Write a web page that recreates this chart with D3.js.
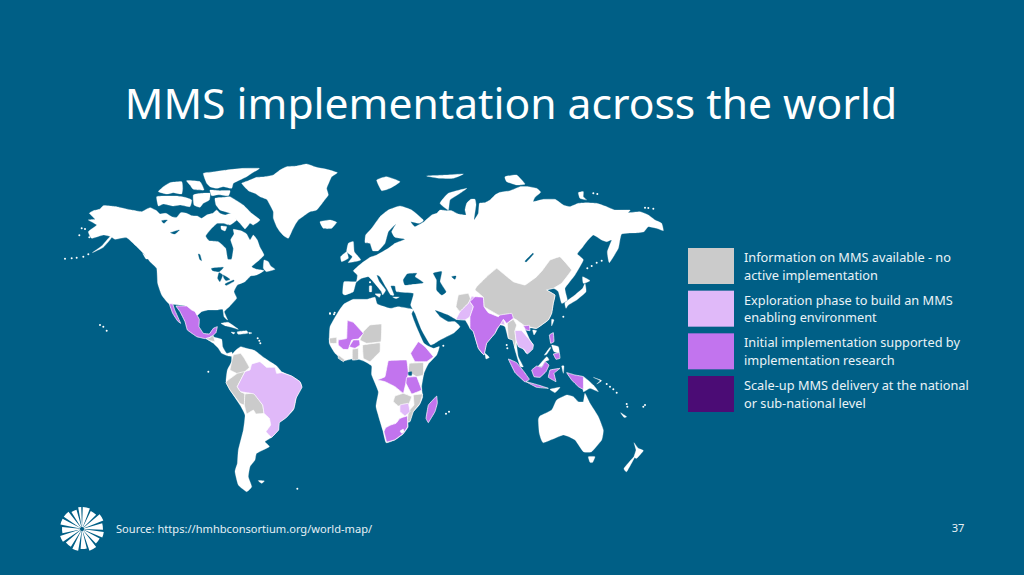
<!DOCTYPE html>
<html><head><meta charset="utf-8">
<script src="https://cdn.jsdelivr.net/npm/d3@7/dist/d3.min.js"></script>
<style>html,body{margin:0;padding:0;background:#005f86}svg{display:block}text{font-family:"Noto Sans",sans-serif}</style>
</head><body><svg id="c" width="1024" height="575"></svg>
<script>
// ---- text ----
const titleText="MMS implementation across the world";
const sourceText="Source: https://hmhbconsortium.org/world-map/";
const pageNumber="37";
const legendLabels=[["Information on MMS available - no","active implementation"],["Exploration phase to build an MMS","enabling environment"],["Initial implementation supported by","implementation research"],["Scale-up MMS delivery at the national","or sub-national level"]];
const statusColors=["#cbcbcb","#e0b9f9","#c274ee","#4b0c75"];
// ---- outlines, one list per shape, in traced sheet units ----
// sheet A: north america
const northAmerica=[[88,160],[100,152],[118,148],[130,137],[150,138],[170,140],[195,146],[215,150],[245,155],[262,146],[272,143],[290,152],[300,162],[318,160],[335,170],[350,172],[362,158],[380,160],[395,167],[412,168],[425,175],[440,165],[458,160],[470,150],[480,160],[495,165],[515,160],[530,180],[510,195],[490,190],[472,190],[455,205],[437,228],[447,242],[475,245],[497,265],[503,297],[515,297],[520,265],[512,240],[522,222],[520,208],[545,213],[560,222],[570,240],[580,225],[592,240],[600,262],[612,285],[598,300],[575,320],[590,328],[612,332],[590,345],[572,348],[555,365],[532,375],[522,395],[530,415],[510,438],[493,455],[503,480],[492,470],[488,448],[470,450],[445,450],[425,455],[405,470],[375,437],[328,432],[305,405],[293,370],[290,325],[270,305],[250,280],[228,258],[200,233],[165,238],[150,230],[125,258],[97,278],[130,262],[155,232],[130,225],[95,235],[85,215],[110,195],[85,180],[105,178]];
const greenland=[[545,70],[565,62],[590,52],[615,50],[640,45],[660,30],[680,20],[710,18],[740,12],[770,22],[800,28],[832,38],[815,50],[808,65],[800,85],[805,105],[790,125],[770,150],[750,155],[735,165],[715,180],[705,195],[695,215],[685,235],[672,228],[660,215],[650,200],[640,175],[640,155],[630,135],[620,118],[600,110],[585,100],[565,92]];
const iceland=[[780,185],[810,180],[830,187],[815,205],[790,205]];
const ellesmere=[[430,40],[465,35],[500,30],[550,25],[598,25],[575,40],[560,50],[535,62],[520,70],[515,85],[490,80],[470,85],[450,80],[440,70]];
const axelHeiberg=[[380,62],[420,65],[432,90],[400,88],[390,75]];
const parry=[[295,95],[310,80],[330,68],[365,65],[368,85],[365,102],[340,98],[320,102]];
const victoriaIsland=[[290,110],[320,108],[350,108],[375,112],[395,120],[390,140],[360,135],[340,138],[310,132],[295,138]];
const somerset=[[400,105],[425,100],[450,100],[448,120],[430,130],[420,142],[402,135]];
const devon=[[450,90],[480,92],[510,92],[505,107],[475,104],[455,107]];
const baffin=[[465,115],[490,112],[510,110],[530,122],[550,135],[575,160],[600,180],[580,195],[570,190],[555,207],[540,190],[530,180],[512,160],[495,155],[480,150],[468,135]];
const southampton=[[483,198],[500,200],[495,213],[484,208]];
const newfoundland=[[612,300],[625,305],[632,318],[645,328],[620,335],[610,325]];
const haidaGwaii=[[248,280],[265,295],[258,297]];
const superior=[[455,325],[490,322],[478,335],[458,332]];
const michigan=[[477,338],[488,345],[480,365],[473,355]];
const huron=[[490,345],[510,358],[498,362],[492,355]];
const erie=[[495,372],[520,360],[522,364],[500,376]];
const winnipeg=[[415,282],[420,284],[425,302],[419,298]];
const greatBear=[[305,182],[322,180],[312,190]];
const greatSlave=[[332,218],[358,210],[345,222]];
const islandDotsA=[[15,296],[35,295],[50,293],[70,290],[85,283],[65,205],[75,207],[58,226],[88,232],[120,495],[130,500],[140,512],[810,460],[822,463]];
// sheet B: latin america
const southAmerica=[[245,195],[258,180],[272,170],[290,175],[315,182],[345,205],[380,228],[395,245],[425,258],[450,275],[455,290],[440,320],[430,360],[405,385],[385,400],[385,420],[365,442],[345,455],[358,470],[320,490],[315,510],[300,530],[295,560],[305,590],[290,605],[265,585],[255,545],[262,520],[265,480],[280,420],[285,375],[270,345],[240,300],[228,275],[232,240],[245,215]];
const centralAmerica=[[178,140],[192,142],[215,148],[218,170],[230,190],[245,186],[248,198],[235,198],[215,190],[205,175],[190,160],[175,150]];
const cuba=[[213,100],[235,97],[265,118],[245,112],[225,107]];
const hispaniola=[[262,125],[290,122],[293,130],[265,133]];
const jamaica=[[243,126],[255,128],[250,132]];
const puertoRico=[[296,127],[306,129],[298,132]];
const falklands=[[325,572],[343,573],[335,580]];
const islandDotsB=[[323,145],[328,152],[331,160],[175,245],[442,596]];
const mexico=[[78,48],[110,48],[125,60],[135,65],[148,88],[147,110],[160,130],[178,132],[190,115],[202,110],[198,128],[190,135],[178,143],[165,146],[140,140],[112,120],[105,95],[90,65]];
const baja=[[58,42],[68,42],[75,62],[92,100],[82,92],[68,70]];
const guatemala=[[168,146],[178,143],[190,137],[195,155],[180,152]];
const brazil=[[262,290],[285,245],[300,240],[305,222],[330,215],[350,232],[375,232],[380,250],[395,248],[425,258],[450,275],[456,292],[438,325],[432,355],[410,382],[388,398],[386,420],[365,442],[348,425],[362,405],[358,385],[342,370],[338,345],[312,312],[290,308],[272,305]];
const colombia=[[250,195],[272,190],[283,205],[298,232],[285,245],[270,255],[240,240],[245,215]];
const peru=[[232,272],[262,250],[285,245],[262,290],[272,305],[285,312],[283,345],[270,340],[240,300],[228,278]];
const bolivia=[[285,312],[312,310],[338,345],[342,370],[318,372],[310,360],[290,372],[283,345]];
// sheet C: eurasia and arctic
const eurasia=[[68,400],[72,365],[108,365],[112,345],[100,332],[122,312],[150,292],[170,285],[205,265],[225,250],[255,238],[225,232],[215,215],[228,192],[205,215],[195,250],[175,272],[158,272],[150,250],[135,248],[137,225],[155,205],[180,170],[205,150],[240,138],[275,150],[310,180],[298,190],[272,185],[285,200],[312,185],[335,165],[350,160],[360,150],[380,152],[395,152],[415,162],[438,165],[435,150],[440,130],[452,118],[465,118],[468,135],[462,180],[475,160],[478,130],[495,128],[510,120],[525,105],[540,97],[570,92],[600,80],[625,80],[650,85],[662,97],[645,112],[640,125],[670,118],[705,118],[730,135],[750,140],[775,130],[800,128],[830,130],[860,140],[885,150],[930,150],[925,158],[960,155],[985,165],[1005,180],[1025,190],[1030,212],[1010,205],[985,200],[972,215],[955,218],[905,222],[895,265],[868,308],[862,275],[875,240],[860,245],[845,240],[820,225],[800,245],[785,265],[772,282],[790,300],[765,345],[735,385],[742,420],[725,430],[715,395],[700,385],[680,390],[705,405],[700,430],[695,460],[685,480],[650,505],[615,503],[630,540],[640,555],[620,580],[605,560],[590,550],[595,590],[610,620],[600,618],[585,570],[580,540],[565,535],[555,500],[540,495],[525,520],[500,550],[492,585],[475,565],[460,515],[450,505],[435,480],[408,478],[385,465],[345,450],[360,470],[385,485],[405,485],[420,500],[400,520],[360,540],[332,555],[305,510],[285,460],[272,435],[280,400],[230,395],[225,378],[212,378],[222,405],[212,405],[200,385],[180,350],[170,345],[178,365],[197,390],[188,405],[183,393],[160,365],[145,350],[125,355],[108,368],[100,395],[75,405]];
const blackSea=[[250,360],[262,342],[290,340],[285,350],[310,368],[280,372],[255,375]];
const caspian=[[340,340],[365,335],[360,365],[378,395],[365,405],[350,390],[350,360]];
const aral=[[395,350],[408,348],[405,358]];
const baikal=[[615,303],[638,280],[640,283],[620,305]];
const britain=[[85,250],[100,245],[103,275],[122,300],[85,308],[97,290],[80,275]];
const ireland=[[62,290],[80,275],[85,295],[65,305]];
const svalbard=[[170,60],[200,50],[240,65],[210,85],[185,92]];
const franzJosef=[[320,48],[380,45],[430,42],[400,55],[360,55]];
const novayaZemlya=[[360,130],[385,100],[440,85],[420,100],[390,120],[385,150]];
const severnaya=[[555,50],[590,45],[615,72],[590,75],[560,65]];
const newSiberian=[[775,98],[790,95],[790,110],[800,120],[780,115]];
const sardinia=[[148,378],[155,378],[155,395],[148,395]];
const sicily=[[165,402],[182,402],[178,412]];
const crete=[[218,411],[238,411],[228,416]];
const islandDotsC=[[820,100],[832,102],[985,144],[975,143],[1000,146],[150,367]];
const china=[[470,380],[500,350],[530,325],[555,345],[580,365],[615,375],[650,350],[668,330],[690,300],[720,290],[755,330],[725,370],[700,385],[680,390],[705,405],[700,430],[695,460],[685,480],[650,505],[615,498],[590,480],[580,475],[535,465],[492,440],[490,412],[465,390]];
// sheet D: africa
const africa=[[55,65],[72,42],[100,28],[140,28],[165,22],[172,42],[210,55],[235,50],[280,58],[275,72],[290,112],[312,160],[340,175],[358,170],[350,195],[325,222],[312,250],[305,290],[308,322],[298,345],[278,368],[270,392],[264,398],[264,412],[250,432],[225,450],[198,458],[188,420],[168,350],[175,305],[155,255],[155,228],[135,215],[105,205],[72,212],[45,190],[28,160],[30,110]];
const mali=[[82,92],[100,97],[130,130],[115,147],[95,150],[85,178],[70,178],[55,165],[55,150],[80,145]];
const burkina=[[88,170],[100,150],[118,150],[120,165],[105,175]];
const niger=[[130,125],[150,105],[185,102],[183,155],[140,160],[120,150]];
const nigeria=[[128,165],[180,158],[180,185],[150,215],[130,205]];
const ghana=[[97,178],[115,175],[115,208],[97,210]];
const senegal=[[28,145],[50,142],[50,160],[30,160]];
const liberia=[[55,195],[75,210],[70,215],[55,205]];
const ethiopia=[[295,155],[315,170],[340,200],[320,215],[285,215],[272,190]];
const eastAfrica=[[268,220],[310,218],[310,255],[290,260],[265,245]];
const drc=[[205,212],[260,210],[265,250],[255,290],[250,310],[225,290],[195,275],[172,270],[195,260]];
const tanzania=[[260,262],[290,260],[305,300],[275,312],[258,280]];
const zambia=[[225,318],[250,310],[275,320],[265,345],[235,348],[220,335]];
const mozambique=[[280,315],[308,312],[300,340],[280,365],[270,395],[262,395],[265,365],[282,345]];
const zimbabwe=[[240,345],[265,340],[270,365],[255,378],[240,365]];
const southAfrica=[[262,378],[263,410],[249,431],[225,449],[200,456],[192,425],[197,413],[212,405],[228,400],[240,385]];
const madagascar=[[350,318],[352,340],[345,365],[325,398],[318,385],[325,345]];
const lesotho=[[240,423],[250,417],[252,425],[245,430]];
const victoriaLake=[[265,247],[275,245],[275,256],[266,256]];
const islandDotsD=[[378,371],[387,365],[370,167],[30,71],[44,68]];
// sheet E: south asia and oceania
const india=[[75,110],[100,112],[102,140],[115,158],[145,170],[150,165],[185,160],[190,175],[170,190],[160,178],[150,195],[142,205],[135,220],[110,250],[102,285],[85,265],[70,215],[60,205],[60,170],[70,140],[60,125]];
const pakistan=[[18,178],[30,155],[55,130],[65,108],[75,112],[62,128],[70,140],[60,170],[45,180]];
const afghanistan=[[18,140],[25,105],[55,100],[62,118],[55,130],[30,155]];
const bangladesh=[[150,168],[160,178],[165,195],[152,192]];
const myanmar=[[172,190],[190,178],[200,195],[195,212],[198,240],[195,265],[188,240],[175,235]];
const mekong=[[195,212],[215,212],[235,235],[250,255],[248,268],[232,282],[222,268],[205,260],[198,240]];
const vietnamNorth=[[220,198],[238,196],[240,212],[228,210]];
const luzon=[[298,225],[310,218],[312,245],[302,250]];
const visayas=[[305,255],[325,260],[328,278],[312,275]];
const mindanao=[[310,282],[328,278],[330,295],[318,298]];
const palawan=[[283,285],[300,262],[302,265],[290,283]];
const sumatra=[[175,297],[200,308],[222,335],[238,358],[225,366],[195,338]];
const java=[[228,365],[265,375],[295,385],[260,382]];
const borneo=[[245,330],[260,318],[275,322],[285,305],[297,315],[288,335],[270,352],[252,350]];
const sabah=[[265,318],[290,290],[297,300],[285,305],[275,320]];
const sulawesi=[[300,330],[330,325],[312,340],[318,365],[295,352]];
const westPapua=[[350,338],[375,345],[400,350],[400,388],[385,380],[365,360]];
const papuaNewGuinea=[[400,350],[430,375],[445,395],[420,385],[400,395]];
const australia=[[265,480],[270,468],[305,450],[320,420],[350,405],[370,410],[385,425],[400,425],[405,400],[420,430],[445,470],[460,510],[455,540],[425,575],[400,575],[375,540],[340,525],[280,548],[268,520]];
const tasmania=[[415,590],[435,590],[428,607],[420,607]];
const nzNorth=[[552,548],[565,565],[580,572],[560,595],[552,590],[558,570]];
const nzSouth=[[555,590],[530,635],[522,625],[550,592]];
const sriLanka=[[105,280],[118,292],[108,297]];
const taiwan=[[305,178],[312,180],[305,198]];
const hokkaido=[[398,50],[420,62],[400,70]];
const honshu=[[405,70],[408,95],[380,120],[355,135],[348,145],[345,128],[375,105],[398,85]];
const newBritain=[[430,352],[455,362],[440,372],[450,362]];
const newCaledonia=[[512,458],[530,470],[522,472]];
const moluccas=[[335,318],[342,318],[340,340]];
const timor=[[300,388],[330,382],[315,398]];
const hainan=[[248,210],[260,212],[252,225]];
const islandDotsE=[[170,255],[172,265],[470,372],[480,380],[490,388],[500,398],[530,432],[532,440],[580,440],[585,435],[412,25],[425,18],[440,8],[455,2],[340,170]];
// logo wedges, degrees
const logoStart=[2,26,50,74,98,118,142,166,190,212,236,258,282,304,328,350];
const logoEnd=[21,45,68,92,113,136,161,184,206,230,252,276,298,322,344,358];
const logoOuter=[22,20,23,21,22,20,23,20,22,21,23,20,22,22,20,22];

// ---- scales: one pair per traced sheet ----
const sheet=(x0,y0,w,h,dw,dh)=>({x:d3.scaleLinear().domain([0,dw]).range([x0,x0+w]),y:d3.scaleLinear().domain([0,dh]).range([y0,y0+h])});
const A=sheet(60,160,320,180,960,540),B=sheet(150,290,200,210,600,630),C=sheet(320,160,350,160,1050,480),D=sheet(320,290,150,170,450,510),E=sheet(450,260,220,220,660,660);
const land="#ffffff",sea="#005f86",[gr,li,me,dk]=statusColors;
const layers=[
[A,land,[northAmerica,greenland,iceland,ellesmere,axelHeiberg,parry,victoriaIsland,somerset,devon,baffin,southampton,newfoundland,haidaGwaii]],
[A,sea,[superior,michigan,huron,erie,winnipeg,greatBear,greatSlave]],
[B,land,[southAmerica,centralAmerica,cuba,hispaniola,jamaica,puertoRico,falklands]],
[C,land,[eurasia,britain,ireland,svalbard,franzJosef,novayaZemlya,severnaya,newSiberian,sardinia,sicily,crete]],
[C,sea,[blackSea,caspian,aral,baikal]],
[D,land,[africa]],
[E,land,[australia,tasmania,nzNorth,nzSouth,sriLanka,taiwan,hokkaido,honshu,newBritain,newCaledonia,moluccas,timor,hainan,sabah,papuaNewGuinea,visayas,palawan]],
[B,me,[mexico,baja]],[B,gr,[guatemala,colombia,peru,bolivia]],[B,li,[brazil]],
[C,gr,[china]],
[D,gr,[niger,nigeria,ghana,senegal,liberia,eastAfrica,zambia,mozambique]],
[D,me,[mali,burkina,ethiopia,drc,tanzania,southAfrica,madagascar]],[D,li,[zimbabwe]],
[D,land,[lesotho]],[D,sea,[victoriaLake]],
[E,gr,[afghanistan,myanmar]],[E,li,[pakistan,bangladesh,mekong]],
[E,me,[india,vietnamNorth,luzon,mindanao,sumatra,java,borneo,sulawesi,westPapua]],
];
const svg=d3.select("#c");
svg.append("rect").attr("width",1024).attr("height",575).attr("fill",sea);
const map=svg.append("g").attr("stroke-linejoin","round");
layers.forEach(([s,fill,shapes])=>{
  const isCountry=fill!==land&&fill!==sea;
  const line=d3.line().x(d=>s.x(d[0])).y(d=>s.y(d[1])).curve(d3.curveCardinalClosed.tension(isCountry?0.85:0.6));
  map.selectAll(null).data(shapes).join("path").attr("d",line).attr("fill",fill)
    .attr("stroke",fill===sea?sea:land).attr("stroke-width",isCountry?0.7:0.3);
});
[[A,islandDotsA],[B,islandDotsB],[C,islandDotsC],[D,islandDotsD],[E,islandDotsE]].forEach(([s,dots])=>{
  map.selectAll(null).data(dots).join("circle").attr("cx",d=>s.x(d[0])).attr("cy",d=>s.y(d[1])).attr("r",1).attr("fill",land);
});
// title
svg.append("text").attr("x",511).attr("y",119).attr("text-anchor","middle").attr("font-size",42.6).attr("fill","#fff").text(titleText);
// legend
const ly=d3.scalePoint().domain(d3.range(4)).range([248,376]);
const lg=svg.append("g");
lg.selectAll("rect").data(statusColors).join("rect").attr("x",688).attr("y",(d,i)=>ly(i)).attr("width",46).attr("height",36).attr("fill",d=>d);
legendLabels.forEach((ls,i)=>ls.forEach((t,j)=>lg.append("text").attr("x",744).attr("y",ly(i)+14+j*17.6).attr("font-size",12.75).attr("fill","#eaf3f7").text(t)));
// footer
svg.append("text").attr("x",116).attr("y",533).attr("font-size",11.1).attr("fill","#e6f0f5").text(sourceText);
svg.append("text").attr("x",958).attr("y",532).attr("text-anchor","middle").attr("font-size",11.1).attr("fill","#e6f0f5").text(pageNumber);
// logo
const arc=d3.arc();
svg.append("g").attr("transform","translate(82,529)").selectAll("path").data(d3.range(logoStart.length)).join("path").attr("fill","#fff")
 .attr("d",i=>arc({innerRadius:2,outerRadius:logoOuter[i],startAngle:logoStart[i]*Math.PI/180,endAngle:logoEnd[i]*Math.PI/180}));
</script></body></html>
